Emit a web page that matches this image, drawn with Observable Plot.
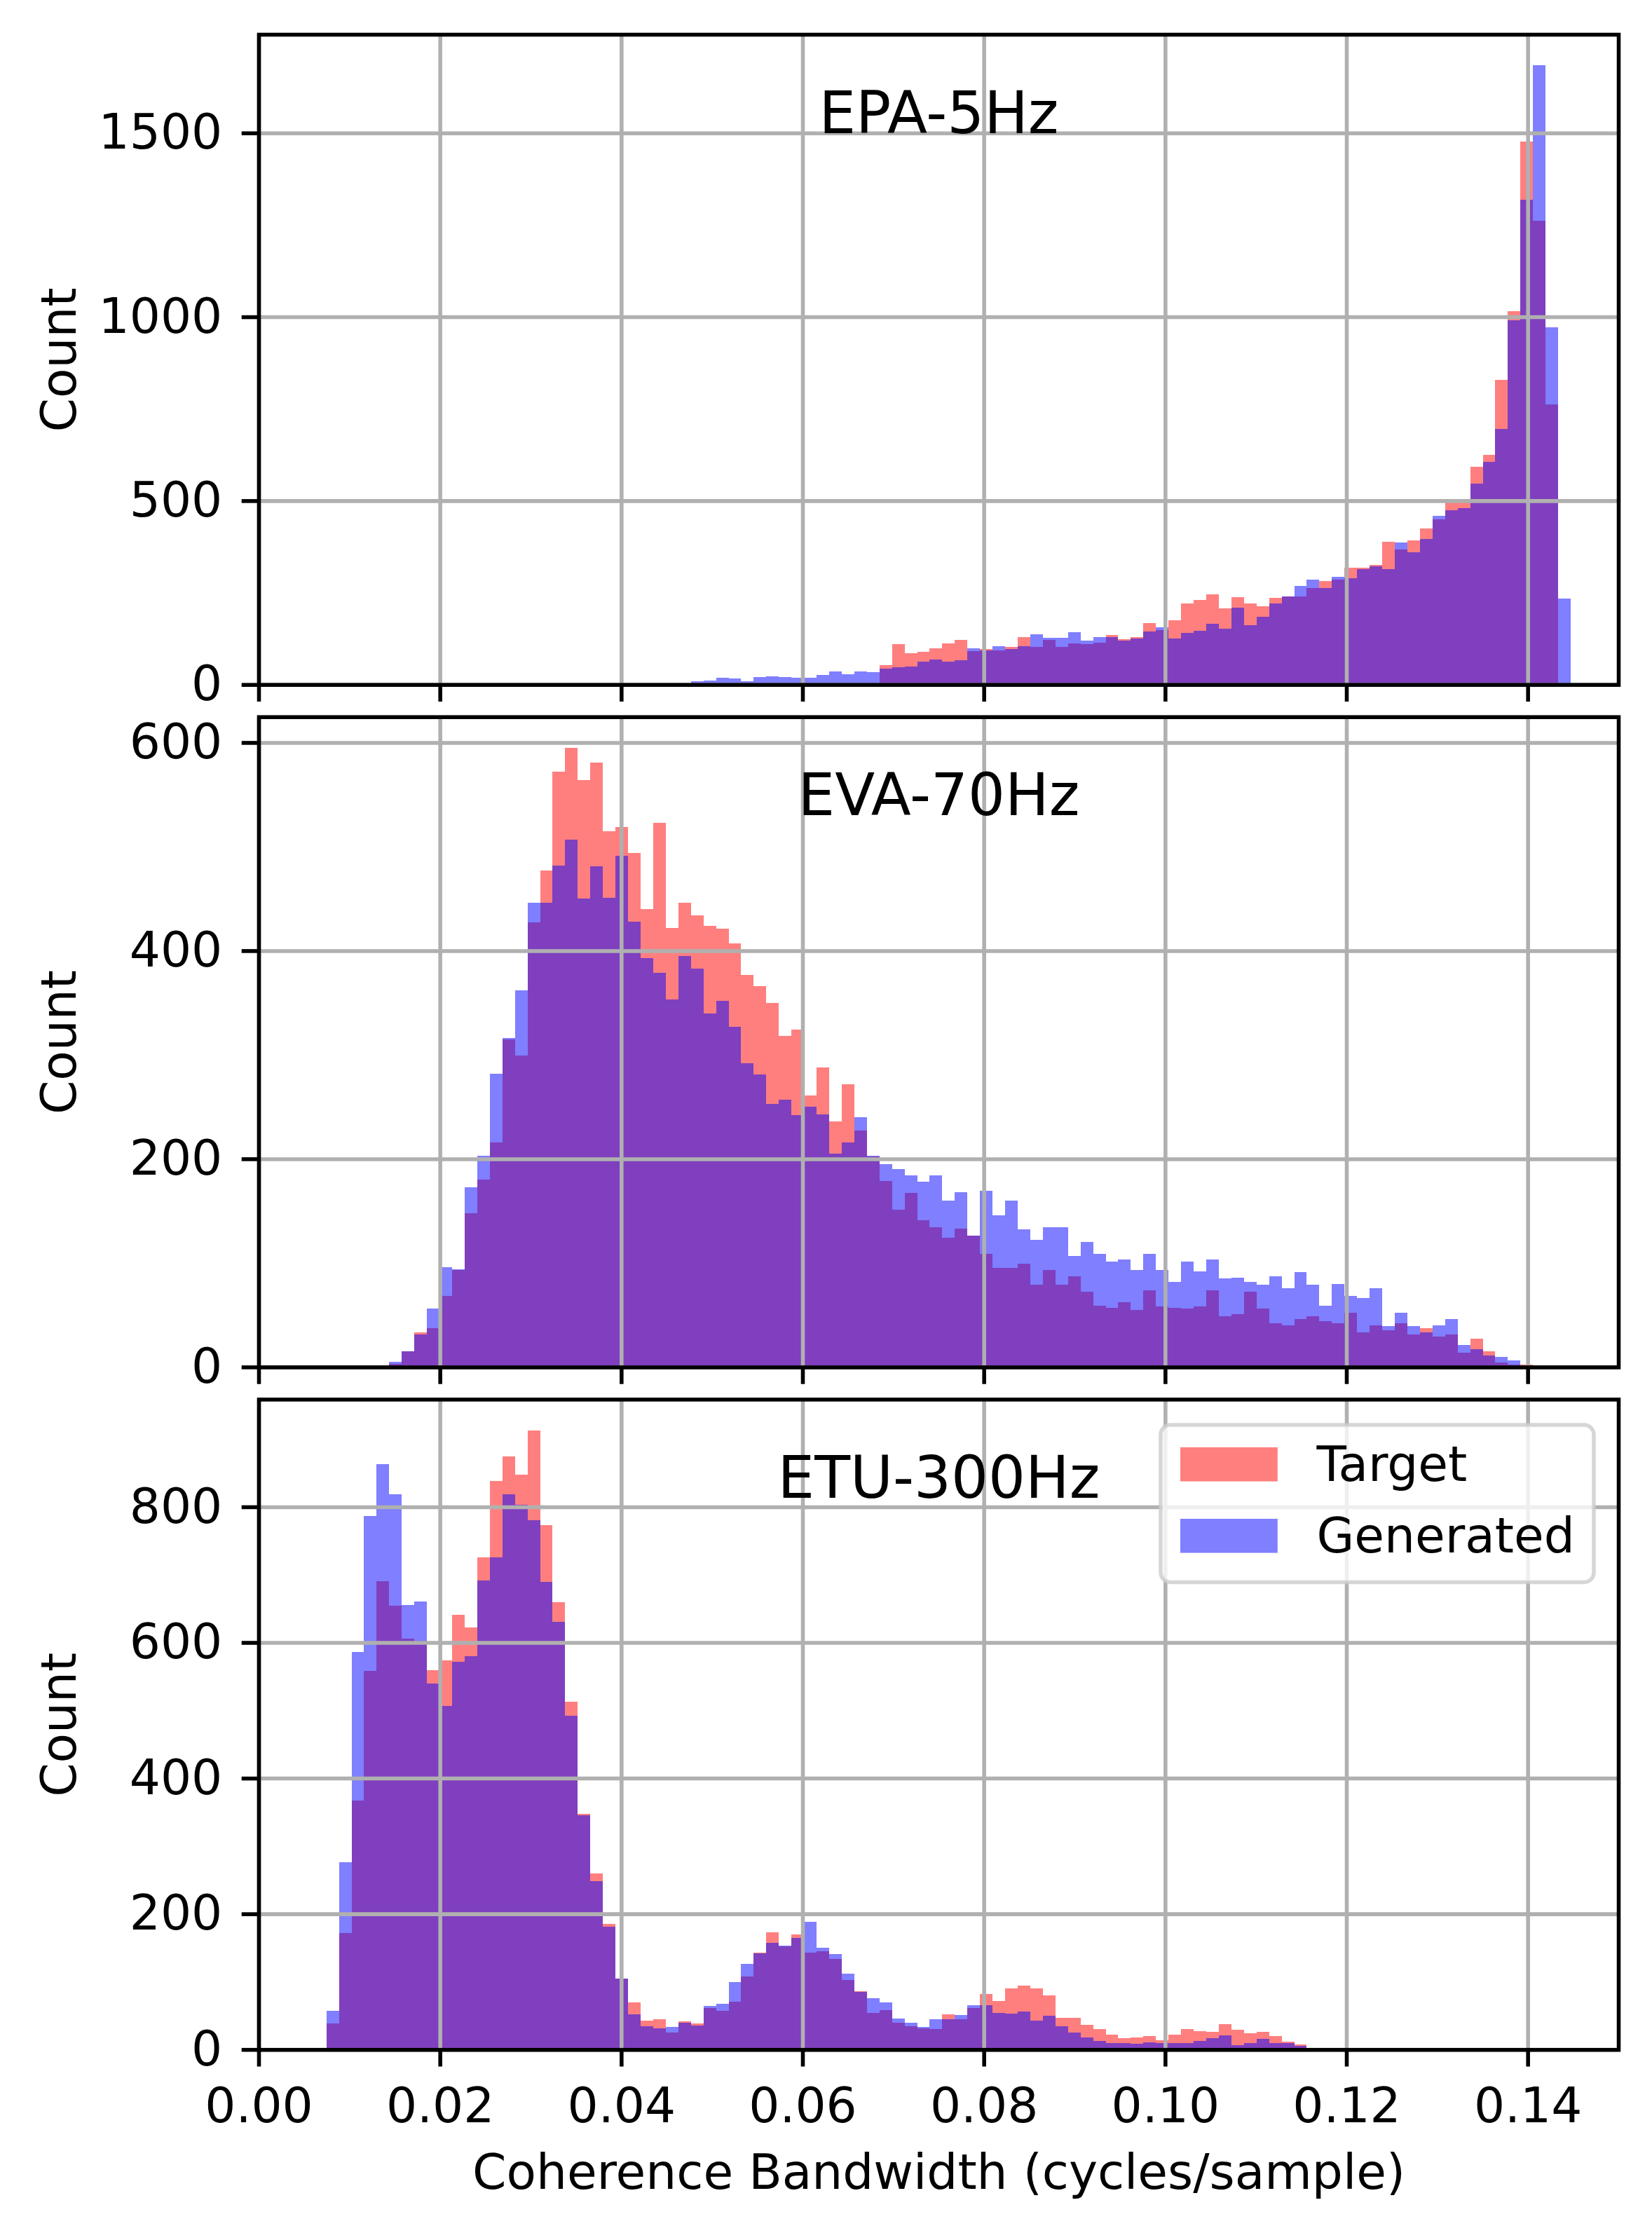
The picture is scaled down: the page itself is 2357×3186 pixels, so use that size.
<!DOCTYPE html>
<html>
<head>
<meta charset="utf-8">
<script src="https://cdn.jsdelivr.net/npm/d3@7"></script>
<script src="https://cdn.jsdelivr.net/npm/@observablehq/plot@0.6"></script>
<style>
  body { margin: 0; background: white; }
  #chart { position: relative; width: 2357px; height: 3186px; background: white; }
  #chart > svg { position: absolute; left: 0; top: 0; }
</style>
</head>
<body>
<div id="chart"></div>
<script>
// ---------------- data ----------------
// shared histogram bins (equal-width bins common to all panels)
const binLo = 0.007473;
const binStep = 0.0013866;
const binEdges = d3.range(101).map(i => binLo + i * binStep);

const xTicks = [0.00, 0.02, 0.04, 0.06, 0.08, 0.10, 0.12, 0.14];
const seriesNames = ["Target", "Generated"];
const panelTitles = ["EPA-5Hz", "EVA-70Hz", "ETU-300Hz"];
const yTicksEPA = [0, 500, 1000, 1500];
const yTicksEVA = [0, 200, 400, 600];
const yTicksETU = [0, 200, 400, 600, 800];

// EPA-5Hz
const epaTargetStart = 44;
const epaTarget = [53, 110, 85, 89, 99, 112, 121, 91, 97, 93, 102, 129, 102, 122, 102, 112, 110, 114, 135, 123,
  129, 167, 148, 175, 221, 230, 246, 208, 237, 220, 213, 235, 239, 239, 263, 282, 285, 318, 318, 325,
  389, 367, 393, 425, 449, 497, 504, 592, 625, 828, 1016, 1477, 1261, 761];
const epaGenStart = 29;
const epaGen = [9, 11, 18, 16, 9, 20, 22, 20, 18, 18, 26, 36, 28, 36, 34, 43, 47, 49, 62, 68,
  62, 66, 99, 93, 104, 97, 104, 137, 127, 127, 142, 120, 129, 129, 120, 125, 144, 156, 125, 141,
  146, 165, 152, 209, 162, 184, 220, 239, 268, 285, 263, 293, 289, 314, 321, 313, 386, 360, 396, 459,
  474, 480, 547, 605, 695, 990, 1318, 1684, 971, 234];

// EVA-70Hz
const evaTargetStart = 5;
const evaTarget = [3, 15, 33, 37, 68, 93, 148, 180, 216, 315, 299, 427, 477, 572, 595, 564, 581, 515, 519, 494,
  440, 523, 422, 446, 434, 424, 421, 407, 377, 366, 350, 318, 324, 261, 288, 236, 272, 227, 202, 179,
  151, 167, 141, 134, 124, 133, 126, 109, 95, 95, 99, 79, 93, 79, 87, 72,
  59, 57, 62, 55, 74, 58, 57, 56, 58, 74, 49, 51, 72, 56, 42, 40, 46, 49, 44, 42,
  52, 33, 40, 35, 42, 31, 37, 29, 31, 14, 27, 15, 4, 2, 2];
const evaGenStart = 5;
const evaGen = [5, 15, 31, 56, 96, 94, 173, 203, 282, 316, 362, 446, 446, 482, 507, 450, 481, 451, 491, 428,
  393, 379, 353, 395, 383, 340, 352, 327, 292, 281, 253, 257, 242, 250, 243, 205, 216, 240, 203, 195,
  190, 184, 178, 184, 160, 168, 126, 169, 146, 160, 132, 122, 134, 134, 107, 120,
  109, 101, 103, 93, 109, 93, 82, 101, 92, 103, 85, 86, 82, 79, 87, 76, 91, 79, 59, 80,
  68, 66, 76, 39, 52, 39, 33, 40, 46, 21, 17, 11, 10, 6];

// ETU-300Hz
const etuTargetStart = 0;
const etuTarget = [38, 172, 367, 558, 690, 654, 606, 603, 559, 574, 641, 622, 726, 838, 874, 847, 913, 773, 659, 513,
  347, 260, 185, 105, 69, 43, 45, 25, 42, 38, 61, 57, 70, 108, 143, 173, 152, 170, 143, 145,
  133, 102, 86, 54, 58, 39, 34, 31, 30, 52, 45, 61, 82, 71, 90, 94, 90, 80, 47, 47,
  36, 30, 22, 17, 18, 20, 14, 22, 30, 27, 26, 37, 29, 24, 26, 20, 12, 7];
const etuGenStart = 0;
const etuGen = [57, 276, 586, 787, 863, 819, 655, 660, 540, 507, 572, 580, 691, 726, 819, 803, 780, 689, 630, 492,
  345, 248, 181, 105, 52, 34, 31, 33, 39, 35, 64, 67, 99, 126, 142, 157, 153, 165, 188, 150,
  141, 112, 85, 76, 69, 46, 39, 33, 45, 45, 51, 65, 65, 54, 53, 56, 43, 50, 34, 25,
  18, 13, 10, 9, 8, 11, 9, 10, 9, 13, 17, 21, 6, 9, 16, 10, 9, 5];

// ---------------- layout ----------------
const W = 2357, H = 3186;
const frameLeft = 369, frameRight = 2309;
const panelTop = [49, 1022.7, 1996.4];
const panelBottom = [976.7, 1950.4, 2924.2];
const FONT = "DejaVu Sans";
const FS = 69.4;          // 10pt
const FS_TITLE = 83.3;    // 12pt
const LW = 5.56;          // 0.8pt
const TICK = 24.3;        // 3.5pt

function toRows(start, counts) {
  return counts.map((c, i) => ({ x1: binEdges[start + i], x2: binEdges[start + i + 1], y: c }));
}

const panels = [
  { title: panelTitles[0], tStart: epaTargetStart, t: epaTarget, gStart: epaGenStart, g: epaGen, yTicks: yTicksEPA },
  { title: panelTitles[1], tStart: evaTargetStart, t: evaTarget, gStart: evaGenStart, g: evaGen, yTicks: yTicksEVA },
  { title: panelTitles[2], tStart: etuTargetStart, t: etuTarget, gStart: etuGenStart, g: etuGen, yTicks: yTicksETU }
];

const chart = document.getElementById("chart");

panels.forEach((p, i) => {
  const ymax = 1.05 * Math.max(d3.max(p.t), d3.max(p.g));
  const isLast = i === panels.length - 1;
  const marks = [
    Plot.rect(toRows(p.tStart, p.t), { x1: "x1", x2: "x2", y1: () => 0, y2: "y", fill: "red", fillOpacity: 0.5, shapeRendering: "crispEdges" }),
    Plot.rect(toRows(p.gStart, p.g), { x1: "x1", x2: "x2", y1: () => 0, y2: "y", fill: "blue", fillOpacity: 0.5, shapeRendering: "crispEdges" }),
    Plot.gridX({ ticks: xTicks, stroke: "#b0b0b0", strokeOpacity: 1, strokeWidth: LW }),
    Plot.gridY({ ticks: p.yTicks, stroke: "#b0b0b0", strokeOpacity: 1, strokeWidth: LW }),
    Plot.frame({ stroke: "black", strokeWidth: LW }),
    Plot.axisX({
      ticks: xTicks, tickSize: TICK, tickPadding: 30, strokeWidth: LW, fontSize: FS, label: null,
      tickFormat: isLast ? d3.format(".2f") : () => ""
    }),
    Plot.axisY({
      ticks: p.yTicks, tickSize: TICK, tickPadding: 28, strokeWidth: LW, fontSize: FS, label: null,
      tickFormat: d => String(d)
    }),
    Plot.text([p.title], { text: d => d, frameAnchor: "top", dy: 140, lineAnchor: "bottom", fontSize: FS_TITLE, fill: "black" }),
    Plot.text(["Count"], { text: d => d, frameAnchor: "left", dx: -262, rotate: -90, textAnchor: "middle", lineAnchor: "bottom", fontSize: FS, fill: "black" })
  ];
  if (isLast) {
    marks.push(Plot.text(["Coherence Bandwidth (cycles/sample)"], {
      text: d => d, frameAnchor: "bottom", dy: 197.8, lineAnchor: "bottom", fontSize: FS, fill: "black"
    }));
  }
  const svg = Plot.plot({
    width: W,
    height: H,
    marginLeft: frameLeft,
    marginRight: W - frameRight,
    marginTop: panelTop[i],
    marginBottom: H - panelBottom[i],
    x: { domain: [0, 0.15] },
    y: { domain: [0, ymax] },
    style: { background: "transparent", overflow: "visible", fontFamily: FONT, fontSize: FS + "px", color: "black" },
    marks
  });
  chart.appendChild(svg);
});

// ---------------- legend (inside the ETU panel, upper right) ----------------
const legend = d3.select(chart).append("svg")
  .attr("width", W).attr("height", H)
  .style("position", "absolute").style("left", "0px").style("top", "0px")
  .style("font-family", FONT);
legend.append("rect")
  .attr("x", 1656).attr("y", 2033).attr("width", 618).attr("height", 224.5)
  .attr("rx", 14).attr("ry", 14)
  .attr("fill", "white").attr("fill-opacity", 0.8)
  .attr("stroke", "#cccccc").attr("stroke-opacity", 0.8).attr("stroke-width", LW);
const legendColors = ["red", "blue"];
seriesNames.forEach((name, j) => {
  const yTop = 2065 + j * 102;
  legend.append("rect")
    .attr("x", 1684).attr("y", yTop).attr("width", 138.8).attr("height", 48.6)
    .attr("fill", legendColors[j]).attr("fill-opacity", 0.5);
  legend.append("text")
    .attr("x", 1878.6).attr("y", yTop + 48)
    .attr("font-size", FS).attr("fill", "black")
    .text(name);
});
</script>
</body>
</html>
